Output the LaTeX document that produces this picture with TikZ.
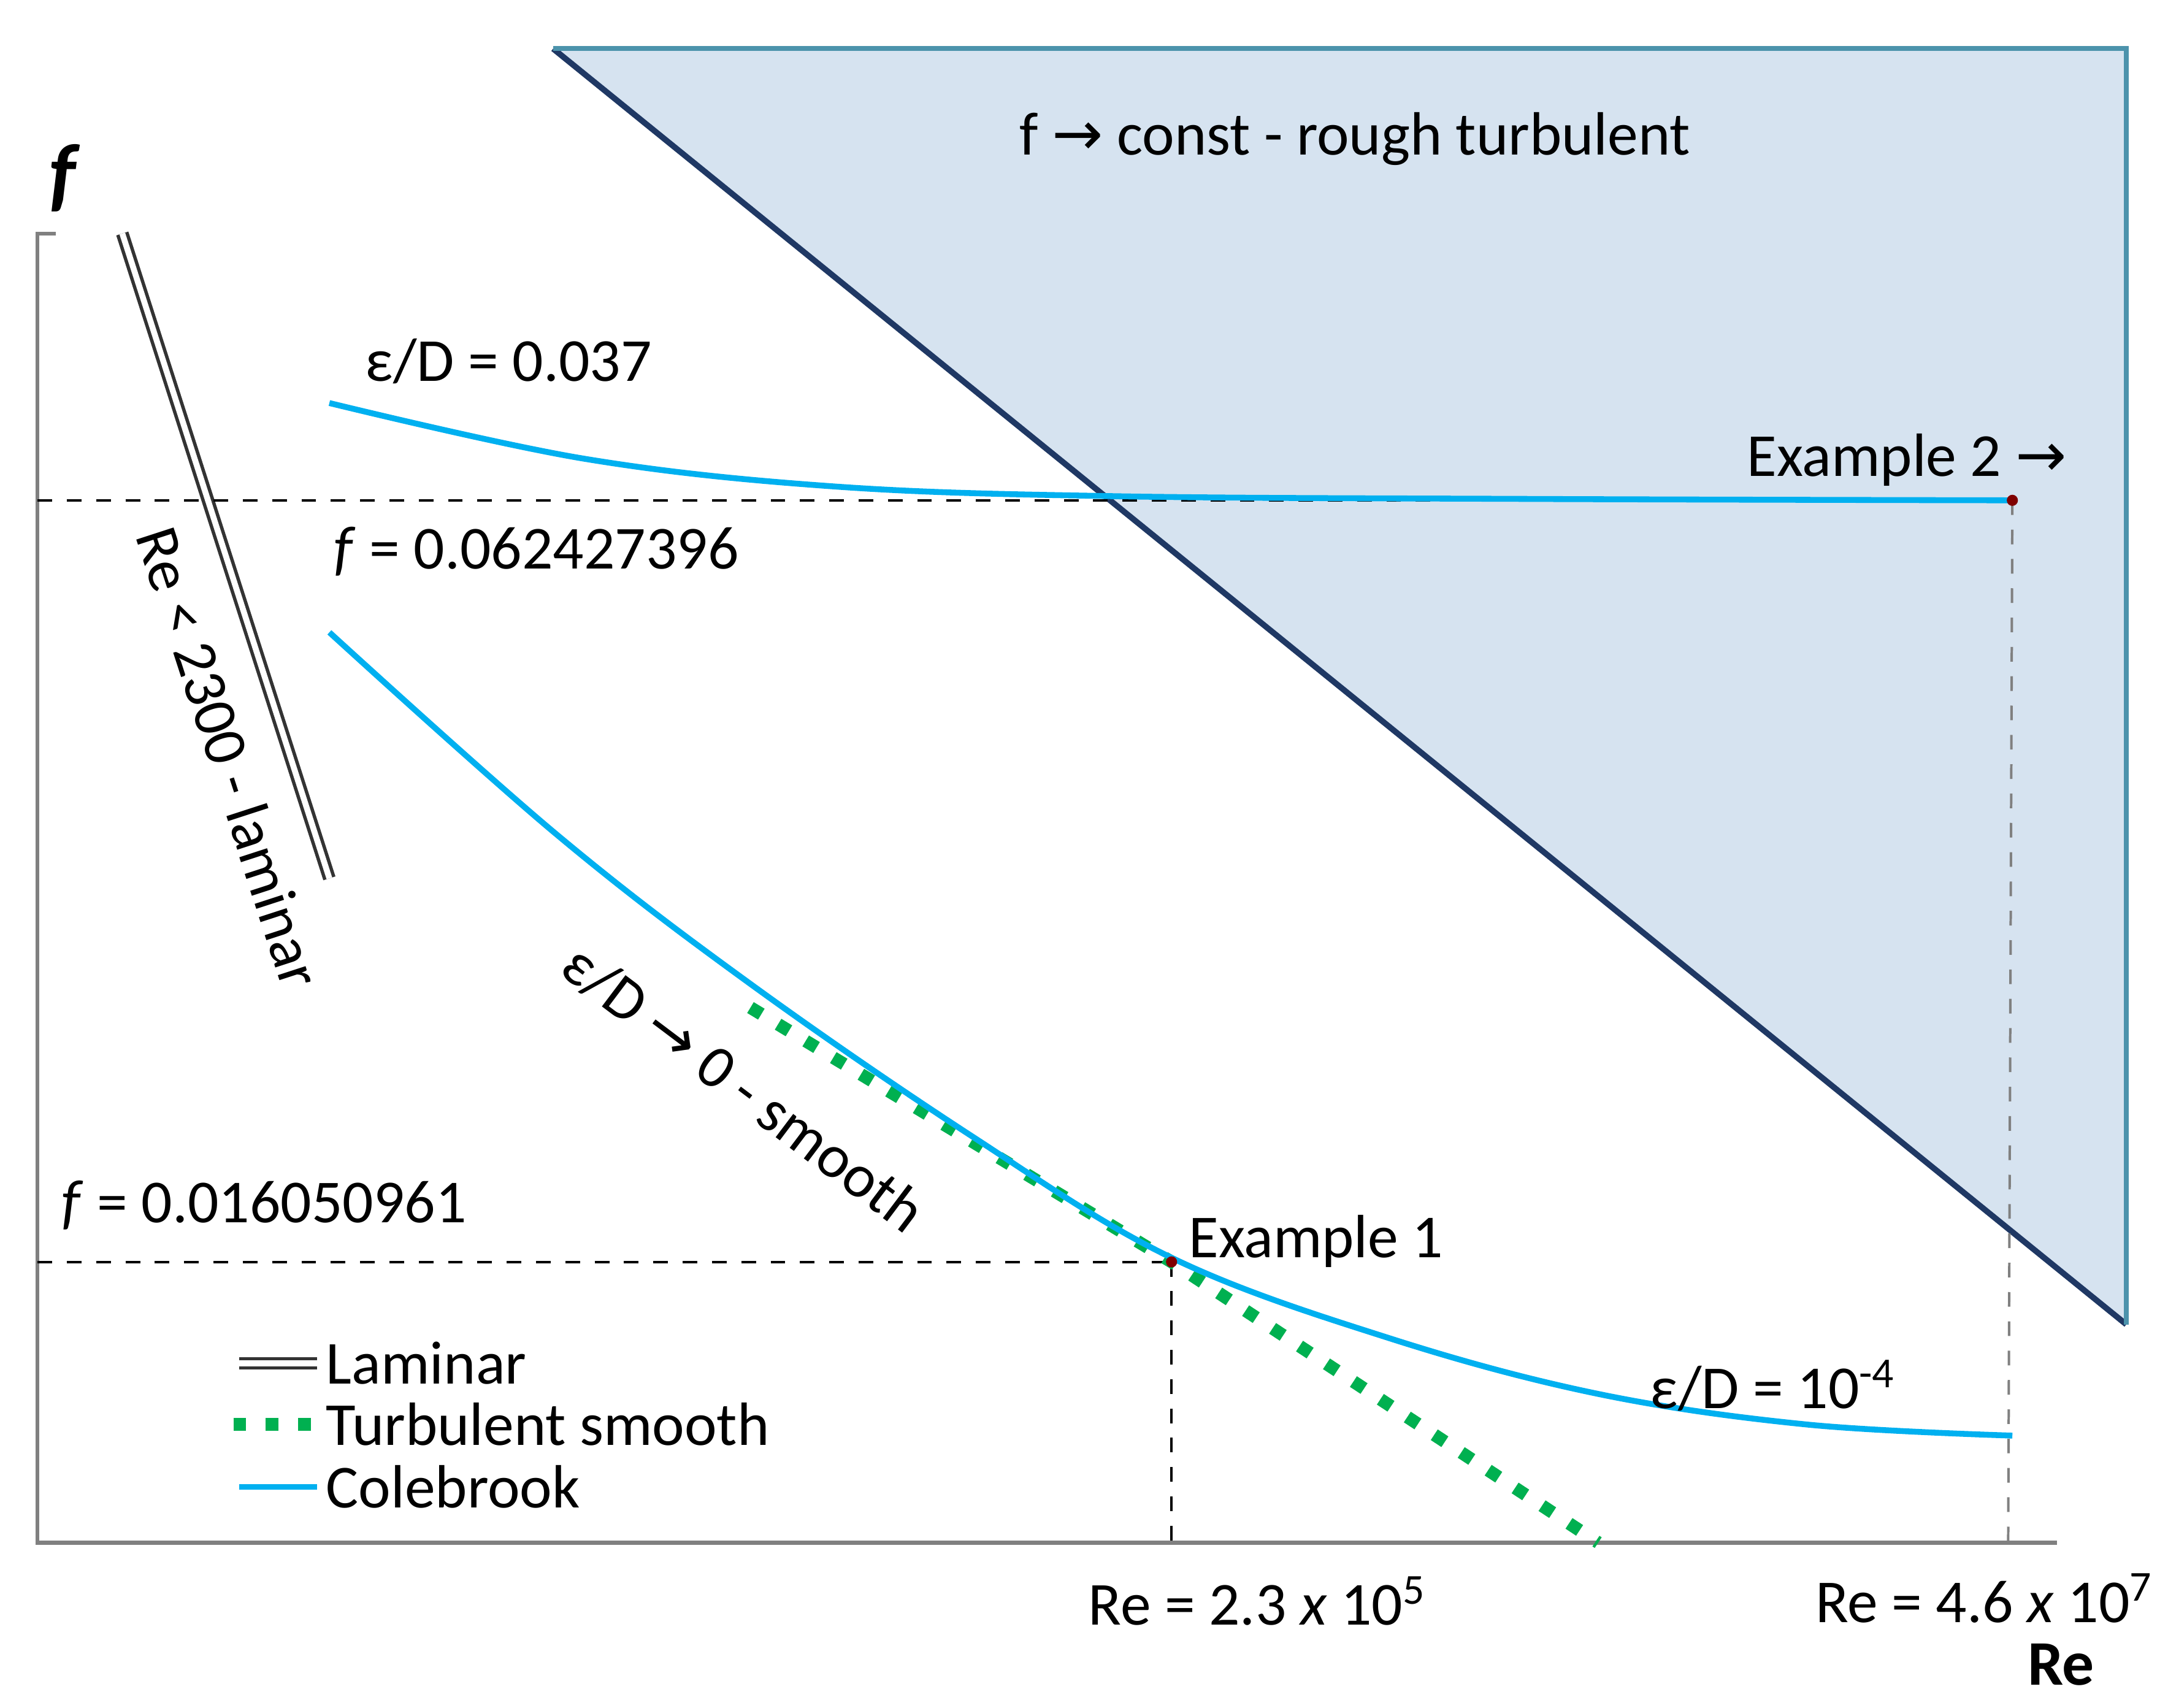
\documentclass[tikz,border=0pt]{standalone}
\usepackage{fontspec}
\setmainfont{Carlito}
\newfontfamily\symfont{DejaVu Sans}
\newcommand{\arr}{{\symfont\char"2192}}
\definecolor{tri}{RGB}{214,227,240}
\definecolor{triedge}{RGB}{31,56,100}
\definecolor{cole}{RGB}{0,176,240}
\definecolor{turb}{RGB}{0,176,80}
\begin{document}
\begin{tikzpicture}[x=0.01cm,y=-0.01cm,
  lbl/.style={font=\fontsize{12.5}{14}\selectfont, inner sep=0pt},
  guide/.style={dashed, line width=0.5pt},
  colebrook/.style={cole, line width=1.2pt},
  turbsmooth/.style={turb, line width=2.6pt, dash pattern=on 2.6pt off 4pt},
  laminar/.style={double=white, draw=black!80, double distance=1.2pt, line width=0.7pt}]
\useasboundingbox (0,0) rectangle (1560,1229);
% triangle
\coordinate (t1) at (398,35); \coordinate (t2) at (1530,35); \coordinate (t3) at (1530,953);
\fill[tri] (t1) -- (t2) -- (t3) -- cycle;
\draw[triedge, line width=1.2pt] (t1) -- (t3);
\draw[cole!40!gray, line width=1pt] (t1) -- (t2) -- (t3);
\node[lbl] (rough) at (975,100) {f \arr\ const - rough turbulent};
% axes
\coordinate (ax0) at (27,168); \coordinate (ax1) at (27,1110); \coordinate (ax2) at (1480,1110);
\draw[gray, line width=0.8pt] (40,168) -- (ax0) -- (ax1) -- (ax2);
\node[lbl, font=\fontsize{17}{18}\selectfont\bfseries\itshape] (fy) at (45,128) {f};
\node[lbl, font=\fontsize{13}{14}\selectfont\bfseries] (rex) at (1483,1198) {Re};
% laminar
\coordinate (l1) at (88,168); \coordinate (l2) at (237,632);
\draw[laminar] (l1) -- (l2);
\node[lbl, rotate=-72] (lamtxt) at (165,545) {Re < 2300 - laminar};
% guides
\coordinate (e2) at (1448,360); \coordinate (e1) at (843,908);
\draw[guide] (27,360) -- (e2);
\draw[guide, gray] (e2) -- (1445,1110);
\draw[guide] (27,908) -- (e1);
\draw[guide] (e1) -- (843,1110);
% curves
\draw[colebrook] plot[smooth, tension=0.6] coordinates {(237,290) (420,330) (600,350) (800,357) (1100,359) (1448,360)};
\draw[turbsmooth] (540,725) -- (e1) -- (1150,1110);
\draw[colebrook] plot[smooth, tension=0.6] coordinates {(237,455) (400,600) (540,708) (700,818) (843,905) (1000,963) (1150,1003) (1300,1025) (1448,1033)};
\fill[red!50!black] (e2) circle (4);
\fill[red!50!black] (e1) circle (4);
% labels
\node[lbl] (ex2) at (1372,331) {Example 2 \arr};
\node[lbl] (ex1) at (947,893) {Example 1};
\node[lbl] (ed1) at (366,260) {ε/D = 0.037};
\node[lbl] (f1) at (386,397) {\textit{f} = 0.062427396};
\node[lbl] (f2) at (190,867) {\textit{f} = 0.016050961};
\node[lbl, rotate=-37] (smooth) at (535,783) {ε/D \arr\ 0 - smooth};
\node[lbl] (ed2) at (1276,997) {ε/D = 10\textsuperscript{-4}};
\node[lbl] (re1) at (905,1152) {Re = 2.3 \textit{x} 10\textsuperscript{5}};
\node[lbl] (re2) at (1428,1150) {Re = 4.6 \textit{x} 10\textsuperscript{7}};
% legend
\draw[laminar] (172,981) -- (228,981);
\node[lbl, anchor=west] (lg1) at (234,981) {Laminar};
\draw[turbsmooth] (168,1025) -- (228,1025);
\node[lbl, anchor=west] (lg2) at (234,1025) {Turbulent smooth};
\draw[colebrook] (172,1070) -- (228,1070);
\node[lbl, anchor=west] (lg3) at (234,1070) {Colebrook};
\end{tikzpicture}
\end{document}
